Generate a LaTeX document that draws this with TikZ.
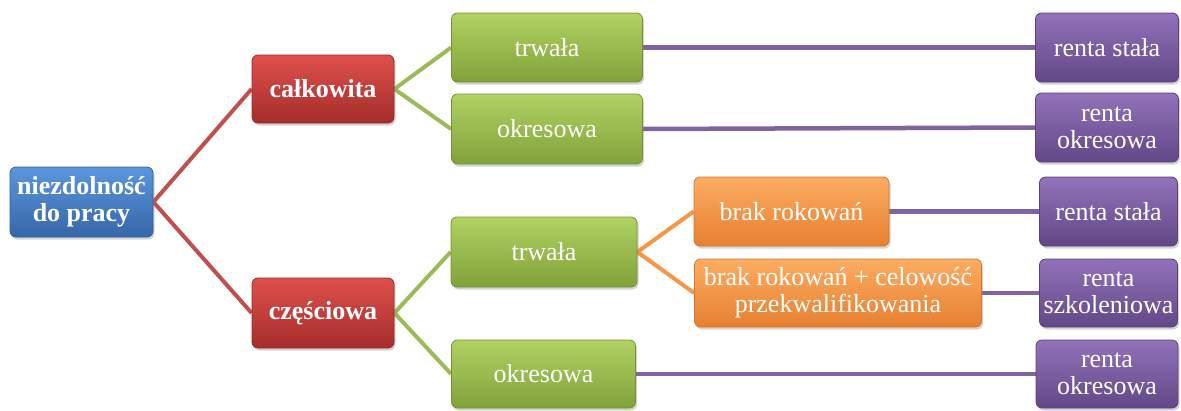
\documentclass[tikz,border=0pt]{standalone}
\usepackage{fontspec}
\setmainfont{Liberation Serif}
\usetikzlibrary{shadows,backgrounds}
\definecolor{bluetop}{RGB}{92,150,220}
\definecolor{bluemid}{RGB}{72,128,198}
\definecolor{bluebot}{RGB}{54,102,168}
\definecolor{blueedge}{RGB}{50,95,155}
\definecolor{redtop}{RGB}{222,80,76}
\definecolor{redmid}{RGB}{200,62,58}
\definecolor{redbot}{RGB}{165,45,42}
\definecolor{rededge}{RGB}{150,40,38}
\definecolor{greentop}{RGB}{176,210,98}
\definecolor{greenmid}{RGB}{155,190,80}
\definecolor{greenbot}{RGB}{128,162,58}
\definecolor{greenedge}{RGB}{115,148,52}
\definecolor{orangetop}{RGB}{252,172,98}
\definecolor{orangemid}{RGB}{247,150,70}
\definecolor{orangebot}{RGB}{230,128,48}
\definecolor{orangeedge}{RGB}{215,118,42}
\definecolor{purpletop}{RGB}{146,114,186}
\definecolor{purplemid}{RGB}{125,96,162}
\definecolor{purplebot}{RGB}{98,72,135}
\definecolor{purpleedge}{RGB}{90,66,125}
\definecolor{redline}{RGB}{192,80,77}
\definecolor{greenline}{RGB}{155,187,89}
\definecolor{orangeline}{RGB}{247,150,70}
\definecolor{purpleline}{RGB}{128,100,162}
\tikzset{
  basebox/.style={rectangle, rounded corners=6pt, line width=0.8pt, text=white,
    align=center, inner sep=2pt,
    font=\fontsize{26}{27}\selectfont,
    drop shadow={opacity=0.35, shadow xshift=1.5pt, shadow yshift=-2.5pt}},
  bluebox/.style={basebox, top color=bluetop, middle color=bluemid, bottom color=bluebot, draw=blueedge, font=\fontsize{26}{27}\selectfont\bfseries},
  redbox/.style={basebox, top color=redtop, middle color=redmid, bottom color=redbot, draw=rededge, font=\fontsize{26}{27}\selectfont\bfseries},
  greenbox/.style={basebox, top color=greentop, middle color=greenmid, bottom color=greenbot, draw=greenedge},
  orangebox/.style={basebox, top color=orangetop, middle color=orangemid, bottom color=orangebot, draw=orangeedge},
  purplebox/.style={basebox, top color=purpletop, middle color=purplemid, bottom color=purplebot, draw=purpleedge},
  conn/.style={line width=4pt},
  redconn/.style={conn, draw=redline},
  greenconn/.style={conn, draw=greenline},
  orangeconn/.style={conn, draw=orangeline},
  purpleconn/.style={conn, line width=4.5pt, draw=purpleline},
}
\begin{document}
\begin{tikzpicture}[x=1pt,y=-1pt]
\useasboundingbox (0,0) rectangle (1181,410);
% level 0
\node[bluebox, minimum width=143pt, minimum height=70pt] (root) at (81.5,202) {niezdolność\\do pracy};
% level 1
\node[redbox, minimum width=142pt, minimum height=68pt] (cal) at (323,89) {całkowita};
\node[redbox, minimum width=142pt, minimum height=70pt] (cze) at (323,313) {częściowa};
% level 2
\node[greenbox, minimum width=191pt, minimum height=69pt] (g1) at (547,47.5) {trwała};
\node[greenbox, minimum width=191pt, minimum height=70pt] (g2) at (547,129) {okresowa};
\node[greenbox, minimum width=186pt, minimum height=70pt] (g3) at (544,252) {trwała};
\node[greenbox, minimum width=184pt, minimum height=68pt] (g4) at (543.5,374) {okresowa};
% level 3
\node[orangebox, minimum width=195pt, minimum height=69pt] (o1) at (791.5,211.5) {brak rokowań};
\node[orangebox, minimum width=287pt, minimum height=68pt] (o2) at (838,293) {brak rokowań + celowość\\przekwalifikowania};
% results
\node[purplebox, minimum width=143pt, minimum height=69pt] (p1) at (1107,47.5) {renta stała};
\node[purplebox, minimum width=143pt, minimum height=69pt] (p2) at (1107,127.5) {renta\\okresowa};
\node[purplebox, minimum width=138pt, minimum height=69pt] (p3) at (1108.5,211.5) {renta stała};
\node[purplebox, minimum width=138pt, minimum height=68pt] (p4) at (1108.5,293) {renta\\szkoleniowa};
\node[purplebox, minimum width=142pt, minimum height=68pt] (p5) at (1107,374) {renta\\okresowa};
% connectors
\begin{scope}[on background layer]
\draw[redconn] (root.east) -- (cal.west);
\draw[redconn] (root.east) -- (cze.west);
\draw[greenconn] (cal.east) -- (g1.west);
\draw[greenconn] (cal.east) -- (g2.west);
\draw[greenconn] (cze.east) -- (g3.west);
\draw[greenconn] (cze.east) -- (g4.west);
\draw[orangeconn] (g3.east) -- (o1.west);
\draw[orangeconn] (g3.east) -- (o2.west);
\draw[purpleconn] (g1.east) -- (p1.west);
\draw[purpleconn] (g2.east) -- (p2.west);
\draw[purpleconn] (o1.east) -- (p3.west);
\draw[purpleconn] (o2.east) -- (p4.west);
\draw[purpleconn] (g4.east) -- (p5.west);
\end{scope}
\end{tikzpicture}
\end{document}
